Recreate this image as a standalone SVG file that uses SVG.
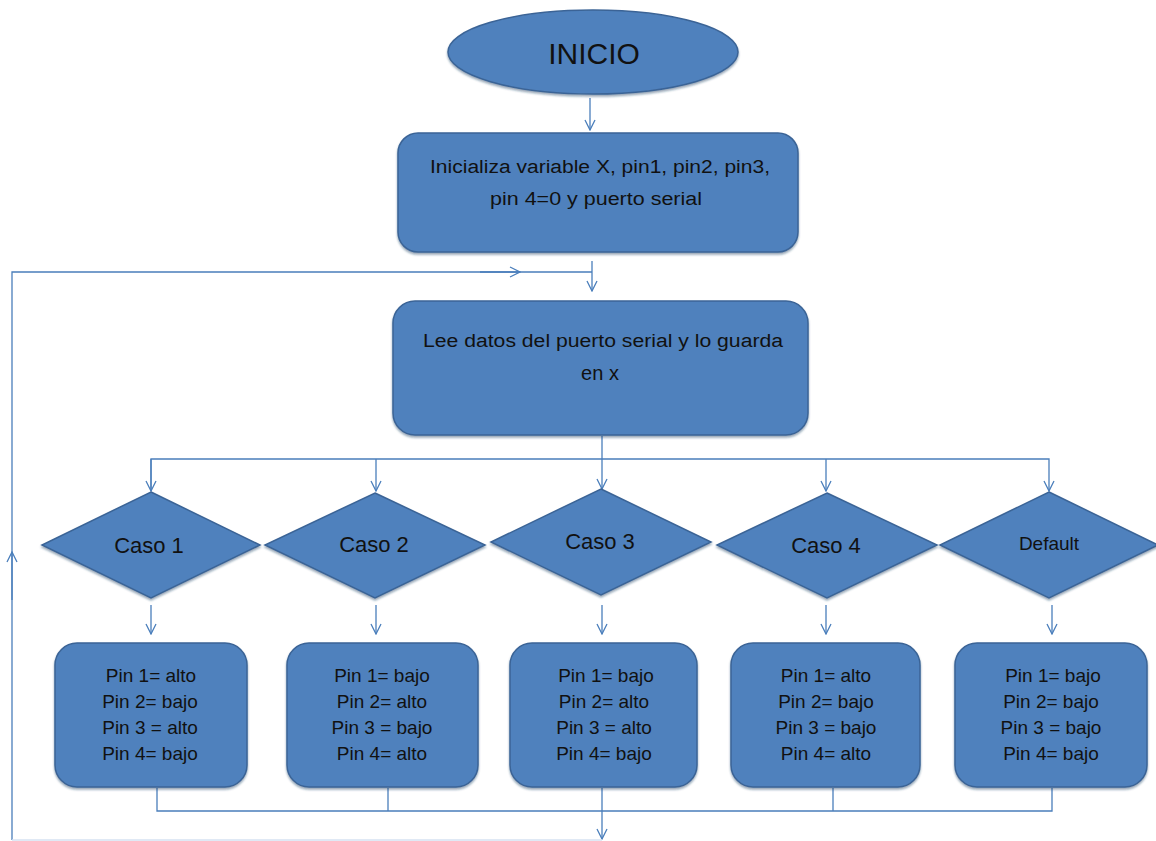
<svg xmlns="http://www.w3.org/2000/svg" width="1156" height="841" viewBox="0 0 1156 841">
<defs>
<style>
.shape{fill:#4F81BD;stroke:#3B6496;stroke-width:1.5;filter:url(#sh)}
.t{font-family:"Liberation Sans",Arial,sans-serif;fill:#111;text-anchor:middle}
.c{fill:none;stroke:#4A7EBB;stroke-width:1.3}
</style>
<filter id="sh" x="-5%" y="-5%" width="110%" height="115%">
<feDropShadow dx="0" dy="2" stdDeviation="1.2" flood-color="#1F3A5F" flood-opacity="0.45"/>
</filter>
<marker id="ah" viewBox="0 0 12 12" refX="11" refY="6" markerWidth="12" markerHeight="12" markerUnits="userSpaceOnUse" orient="auto">
<path d="M1,1 L11,6 L1,11" fill="none" stroke="#4A7EBB" stroke-width="1.3"/>
</marker>
</defs>
<rect width="1156" height="841" fill="#fff"/>

<g id="connectors">
<line class="c" x1="590" y1="98" x2="590" y2="130" marker-end="url(#ah)"/>
<polyline class="c" points="12,840 12,272 592,272"/>
<line class="c" x1="12" y1="600" x2="12" y2="552" marker-end="url(#ah)"/>
<line class="c" x1="480" y1="272" x2="520" y2="272" marker-end="url(#ah)"/>
<line class="c" x1="592" y1="261" x2="592" y2="291" marker-end="url(#ah)"/>
<line class="c" x1="602" y1="436" x2="602" y2="489" marker-end="url(#ah)"/>
<polyline class="c" points="151,491 151,459 1049,459 1049,491" marker-end="url(#ah)"/>
<line class="c" x1="151" y1="459" x2="151" y2="491" marker-end="url(#ah)"/>
<line class="c" x1="376" y1="459" x2="376" y2="491" marker-end="url(#ah)"/>
<line class="c" x1="826" y1="459" x2="826" y2="491" marker-end="url(#ah)"/>
<line class="c" x1="151" y1="605" x2="151" y2="634" marker-end="url(#ah)"/>
<line class="c" x1="376" y1="605" x2="376" y2="634" marker-end="url(#ah)"/>
<line class="c" x1="602" y1="605" x2="602" y2="634" marker-end="url(#ah)"/>
<line class="c" x1="826" y1="605" x2="826" y2="634" marker-end="url(#ah)"/>
<line class="c" x1="1052" y1="605" x2="1052" y2="634" marker-end="url(#ah)"/>
<polyline class="c" points="157,788 157,811 1052,811 1052,788"/>
<line class="c" x1="388" y1="788" x2="388" y2="811"/>
<line class="c" x1="833" y1="788" x2="833" y2="811"/>
<line class="c" x1="602" y1="788" x2="602" y2="839" marker-end="url(#ah)"/>
<line x1="12" y1="840" x2="602" y2="840" stroke="#D6E2F2" stroke-width="1.3"/>
</g>

<g id="inicio">
<ellipse class="shape" cx="593" cy="52" rx="145" ry="42"/>
<text class="t" x="594" y="64" font-size="30">INICIO</text>
</g>

<g id="inicializa">
<rect class="shape" x="398" y="133" width="400" height="119" rx="20"/>
<text class="t" x="600" y="173" font-size="18" textLength="340" lengthAdjust="spacingAndGlyphs">Inicializa variable  X, pin1,  pin2, pin3,</text>
<text class="t" x="596" y="205" font-size="18" textLength="212" lengthAdjust="spacingAndGlyphs">pin  4=0 y puerto  serial</text>
</g>

<g id="lee">
<rect class="shape" x="393" y="301" width="415" height="134" rx="22"/>
<text class="t" x="603" y="347" font-size="18" textLength="360" lengthAdjust="spacingAndGlyphs">Lee datos del  puerto serial y lo guarda</text>
<text class="t" x="600" y="380" font-size="20">en x</text>
</g>

<g id="caso1">
<polygon class="shape" points="151,492 260,545 151,598 42,545"/>
<text class="t" x="149" y="553" font-size="22">Caso 1</text>
</g>
<g id="caso2">
<polygon class="shape" points="375,493 485,545 375,598 265,545"/>
<text class="t" x="374" y="552" font-size="22">Caso 2</text>
</g>
<g id="caso3">
<polygon class="shape" points="601,489 711,542 601,595 491,542"/>
<text class="t" x="600" y="549" font-size="22">Caso 3</text>
</g>
<g id="caso4">
<polygon class="shape" points="827,493 937,545 827,598 717,545"/>
<text class="t" x="826" y="553" font-size="22">Caso 4</text>
</g>
<g id="default">
<polygon class="shape" points="1049,492 1158,545 1049,598 940,545"/>
<text class="t" x="1049" y="550" font-size="19">Default</text>
</g>

<g id="box1">
<rect class="shape" x="55" y="643" width="192" height="144" rx="22"/>
<text class="t" font-size="19"><tspan x="151" y="682">Pin 1= alto</tspan><tspan x="150" y="708">Pin 2= bajo</tspan><tspan x="150" y="734">Pin 3 = alto</tspan><tspan x="150" y="760">Pin 4= bajo</tspan></text>
</g>
<g id="box2">
<rect class="shape" x="287" y="643" width="191" height="144" rx="22"/>
<text class="t" font-size="19"><tspan x="382" y="682">Pin 1= bajo</tspan><tspan x="382" y="708">Pin 2= alto</tspan><tspan x="382" y="734">Pin 3 = bajo</tspan><tspan x="382" y="760">Pin 4= alto</tspan></text>
</g>
<g id="box3">
<rect class="shape" x="510" y="643" width="187" height="144" rx="22"/>
<text class="t" font-size="19"><tspan x="606" y="682">Pin 1= bajo</tspan><tspan x="604" y="708">Pin 2= alto</tspan><tspan x="604" y="734">Pin 3 = alto</tspan><tspan x="604" y="760">Pin 4= bajo</tspan></text>
</g>
<g id="box4">
<rect class="shape" x="731" y="643" width="189" height="144" rx="22"/>
<text class="t" font-size="19"><tspan x="826" y="682">Pin 1= alto</tspan><tspan x="826" y="708">Pin 2= bajo</tspan><tspan x="826" y="734">Pin 3 = bajo</tspan><tspan x="826" y="760">Pin 4= alto</tspan></text>
</g>
<g id="box5">
<rect class="shape" x="955" y="643" width="192" height="144" rx="22"/>
<text class="t" font-size="19"><tspan x="1053" y="682">Pin 1= bajo</tspan><tspan x="1051" y="708">Pin 2= bajo</tspan><tspan x="1051" y="734">Pin 3 = bajo</tspan><tspan x="1051" y="760">Pin 4= bajo</tspan></text>
</g>
</svg>
